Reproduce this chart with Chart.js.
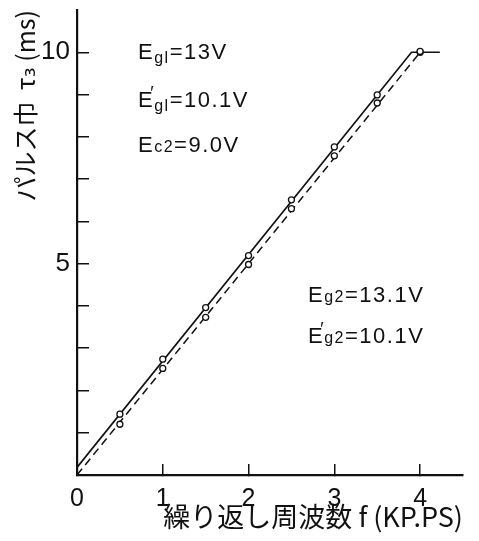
<!DOCTYPE html>
<html>
<head>
<meta charset="utf-8">
<script src="https://cdn.jsdelivr.net/npm/chart.js@4.4.1/dist/chart.umd.min.js"></script>
<style>
  html, body { margin: 0; padding: 0; background: #fff; }
</style>
</head>
<body>
<canvas id="pulsoChart" width="479" height="541"></canvas>
<script>
// frecuencia de repeticion f (KP.PS) y ancho de pulso tau3 (ms)
const frecuencias = [0.5, 1, 1.5, 2, 2.5, 3, 3.5, 4];
const tauArriba = [1.44, 2.74, 3.96, 5.19, 6.51, 7.76, 8.99, 10.02];
const tauAbajo = [1.20, 2.52, 3.73, 4.98, 6.30, 7.55, 8.80, 10.0];

// linea continua y linea discontinua
const lineaF = [0, 3.9, 4.23];
const lineaTau = [0.18, 10.0, 10.0];
const discF = [0, 4.0];
const discTau = [0, 10.0];

const ticksX = [0, 1, 2, 3, 4];
const ticksY = [0, 1, 2, 3, 4, 5, 6, 7, 8, 9, 10];
const etiquetasY = { 5: '5', 10: '10' };

// textos de condiciones: [principal, subindice, resto]
const notas = [
    ['E', 'gl', '=13V'],
    ['E\u2032', 'gl', '=10.1V'],
    ['E', 'c2', '=9.0V'],
    ['E', 'g2', '=13.1V'],
    ['E\u2032', 'g2', '=10.1V']
];

const tinta = '#111';
const fuenteNum = '"Liberation Sans", Arial, sans-serif';
const fuenteJp = '"Noto Sans CJK JP", "DejaVu Sans", sans-serif';

const puntos = (xs, ys) => xs.map((x, i) => ({ x: x, y: ys[i] }));

// dibuja las notas de tensiones
const notasPlugin = {
    id: 'notas',
    afterDraw(chart) {
        const ctx = chart.ctx;
        const pos = [[138, 59], [138, 107], [138, 152], [308, 302], [308, 343]];
        const bajada = [4, 4, 0, 0, 0];
        ctx.save();
        ctx.fillStyle = tinta;
        ctx.textBaseline = 'alphabetic';
        ctx.letterSpacing = '1.5px';
        notas.forEach((n, i) => {
            let x = pos[i][0];
            const y = pos[i][1];
            ctx.font = '22px ' + fuenteNum;
            ctx.fillText('E', x, y);
            const anchoE = ctx.measureText('E').width;
            if (n[0].length > 1) {
                ctx.font = '18px ' + fuenteNum;
                ctx.fillText('\u2032', x + anchoE - 4, y - 8);
            }
            x += anchoE;
            ctx.font = '16px ' + fuenteNum;
            ctx.fillText(n[1], x, y + bajada[i]);
            x += ctx.measureText(n[1]).width;
            ctx.font = '22px ' + fuenteNum;
            ctx.fillText(n[2], x, y);
        });
        ctx.restore();
    }
};

const ctx = document.getElementById('pulsoChart').getContext('2d');
new Chart(ctx, {
    type: 'line',
    data: {
        datasets: [{
            data: puntos(frecuencias, tauArriba),
            showLine: false,
            pointRadius: 3,
            pointBorderWidth: 1.3,
            pointBackgroundColor: '#fff',
            pointBorderColor: tinta,
            order: 0
        }, {
            data: puntos(frecuencias, tauAbajo),
            showLine: false,
            pointRadius: 3,
            pointBorderWidth: 1.3,
            pointBackgroundColor: '#fff',
            pointBorderColor: tinta,
            order: 1
        }, {
            data: puntos(lineaF, lineaTau),
            borderColor: tinta,
            borderWidth: 1.7,
            pointRadius: 0,
            tension: 0,
            order: 2
        }, {
            data: puntos(discF, discTau),
            borderColor: tinta,
            borderWidth: 1.5,
            borderDash: [8, 5],
            pointRadius: 0,
            tension: 0,
            order: 3
        }]
    },
    options: {
        responsive: false,
        animation: false,
        layout: { padding: { top: 10, right: 16, left: 0, bottom: 0 } },
        plugins: {
            legend: { display: false },
            tooltip: { enabled: false }
        },
        scales: {
            x: {
                type: 'linear',
                min: 0,
                max: 4.5,
                afterBuildTicks: s => { s.ticks = ticksX.map(v => ({ value: v })); },
                afterFit: s => { s.height = 66; s.paddingLeft = 0; s.paddingRight = 0; },
                grid: { drawOnChartArea: false, drawTicks: true, tickLength: -11, color: tinta, lineWidth: 1.5 },
                border: { display: true, color: tinta, width: 2.2 },
                ticks: {
                    padding: 20,
                    color: tinta,
                    autoSkip: false,
                    maxRotation: 0,
                    font: { family: fuenteNum, size: 25 },
                    callback: v => String(v)
                },
                title: {
                    display: true,
                    text: '繰り返し周波数 f (KP.PS)',
                    align: 'end',
                    color: tinta,
                    font: { family: fuenteJp, size: 27 },
                    padding: { top: 0, bottom: 8 }
                }
            },
            y: {
                type: 'linear',
                min: 0,
                max: 11,
                afterBuildTicks: s => { s.ticks = ticksY.map(v => ({ value: v })); },
                afterFit: s => { s.width = 77; s.paddingTop = 0; s.paddingBottom = 0; },
                grid: { drawOnChartArea: false, drawTicks: true, tickLength: -12, color: tinta, lineWidth: 1.5 },
                border: { display: true, color: tinta, width: 2.2 },
                ticks: {
                    padding: 19,
                    color: tinta,
                    autoSkip: false,
                    font: { family: fuenteNum, size: 26 },
                    callback: v => etiquetasY[v] || ''
                },
                title: {
                    display: true,
                    text: 'パルス巾  τ₃ (ms)',
                    align: 'end',
                    color: tinta,
                    font: { family: fuenteJp, size: 25 },
                    padding: { top: 10, bottom: 0 }
                }
            }
        }
    },
    plugins: [notasPlugin]
});
</script>
</body>
</html>
